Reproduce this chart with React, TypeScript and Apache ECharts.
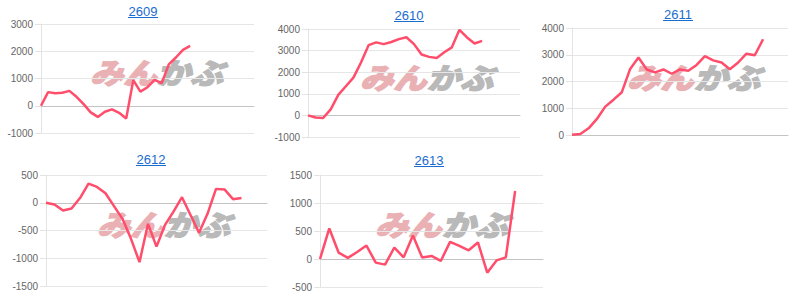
import React, { useEffect, useRef } from "react";
import * as echarts from "echarts";

const titles = ["2609", "2610", "2611", "2612", "2613"];
const categoryCounts = [31, 29, 27, 27, 25];
const v2609 = [0, 500, 460, 480, 545, 330, 60, -245, -410, -220, -135, -260, -470, 940, 520, 680, 950, 830, 1520, 1770, 2050, 2200];
const v2610 = [0, -100, -120, 280, 950, 1350, 1750, 2450, 3250, 3380, 3300, 3400, 3530, 3620, 3300, 2820, 2710, 2660, 2920, 3150, 3960, 3610, 3330, 3450];
const v2611 = [10, 40, 250, 600, 1060, 1320, 1600, 2470, 2900, 2450, 2340, 2450, 2290, 2450, 2400, 2620, 2950, 2790, 2710, 2460, 2710, 3040, 2980, 3580];
const v2612 = [0, -30, -140, -105, 85, 345, 285, 170, -60, -290, -650, -1070, -380, -790, -400, -160, 100, -220, -540, -200, 250, 240, 65, 85];
const v2613 = [0, 545, 115, 20, 125, 240, -65, -100, 205, 30, 420, 25, 55, -35, 305, 235, 155, 295, -245, -25, 30, 1215];
const seriesValues = [v2609, v2610, v2611, v2612, v2613];
const yMins = [-1000, -1000, 0, -1500, -500];
const yMaxs = [3000, 4000, 4000, 500, 1500];
const yIntervals = [1000, 1000, 1000, 500, 500];

// layout (positions only)
const grids = [
  { left: 41, top: 24, width: 213, height: 109 },
  { left: 308, top: 29, width: 212, height: 108 },
  { left: 572, top: 28, width: 216, height: 107 },
  { left: 46, top: 175, width: 221, height: 111 },
  { left: 320, top: 175, width: 223, height: 112 },
];
const titlePos = [
  [143, 11],
  [409, 15],
  [678, 14],
  [151, 159],
  [429, 160],
];
const markPos = [
  [90, 57],
  [360, 62],
  [627, 62],
  [97, 209],
  [375, 209],
];

export default function App() {
  const ref = useRef<HTMLDivElement>(null);
  useEffect(() => {
    if (!ref.current) return;
    const chart = echarts.init(ref.current, undefined, { renderer: "svg" });
    const font = 'Arial, "Liberation Sans", Helvetica, sans-serif';
    const markFont = `italic 900 29px "Noto Sans CJK JP", sans-serif`;
    const graphics: any[] = [];
    titles.forEach((t, i) => {
      const [x, y] = titlePos[i];
      graphics.push({
        type: "text",
        x,
        y,
        z: 10,
        style: {
          text: t,
          fill: "#1a6ccf",
          font: `13px ${font}`,
          textAlign: "center",
          textVerticalAlign: "middle",
        },
      });
      graphics.push({
        type: "rect",
        z: 10,
        shape: { x: x - 15, y: y + 6, width: 30, height: 1 },
        style: { fill: "#1a6ccf" },
      });
      const [mx, my] = markPos[i];
      graphics.push({
        type: "group",
        x: mx,
        y: my,
        z: 1,
        scaleX: 1.15,
        children: [
          {
            type: "text",
            x: 0,
            y: 0,
            style: {
              text: "みん",
              fill: "#eab1b5",
              stroke: "#eab1b5",
              lineWidth: 1.2,
              font: markFont,
              textVerticalAlign: "top",
            },
          },
          {
            type: "text",
            x: 58,
            y: 0,
            style: {
              text: "かぶ",
              fill: "#b9b9b9",
              stroke: "#b9b9b9",
              lineWidth: 1.2,
              font: markFont,
              textVerticalAlign: "top",
            },
          },
        ],
      });
    });

    chart.setOption({
      animation: false,
      grid: grids.map((g) => ({ ...g, containLabel: false })),
      xAxis: categoryCounts.map((n, i) => ({
        type: "category",
        gridIndex: i,
        boundaryGap: false,
        data: Array.from({ length: n }, (_, k) => String(k + 1)),
        axisLine: { show: true, onZero: true, lineStyle: { color: "#c4c4c4", width: 1 } },
        axisTick: { show: false },
        axisLabel: { show: false },
        splitLine: { show: false },
      })),
      yAxis: titles.map((_, i) => ({
        type: "value",
        gridIndex: i,
        min: yMins[i],
        max: yMaxs[i],
        interval: yIntervals[i],
        axisLine: { show: true, lineStyle: { color: "#e3e3e3" } },
        axisTick: { show: true, length: 6, lineStyle: { color: "#e3e3e3" } },
        axisLabel: {
          color: "#666",
          fontSize: 10,
          fontFamily: font,
          margin: 8,
          formatter: (v: number) => String(v),
        },
        splitLine: { show: true, lineStyle: { color: "#e6e6e6" } },
      })),
      series: seriesValues.map((vals, i) => ({
        type: "line",
        xAxisIndex: i,
        yAxisIndex: i,
        data: vals,
        showSymbol: false,
        z: 5,
        lineStyle: { color: "#ff4d6b", width: 2.5 },
        itemStyle: { color: "#ff4d6b" },
      })),
      graphic: graphics,
    });
    return () => chart.dispose();
  }, []);
  return (
    <div
      ref={ref}
      style={{ position: "absolute", left: 0, top: 0, width: 800, height: 301, background: "#fff" }}
    />
  );
}
